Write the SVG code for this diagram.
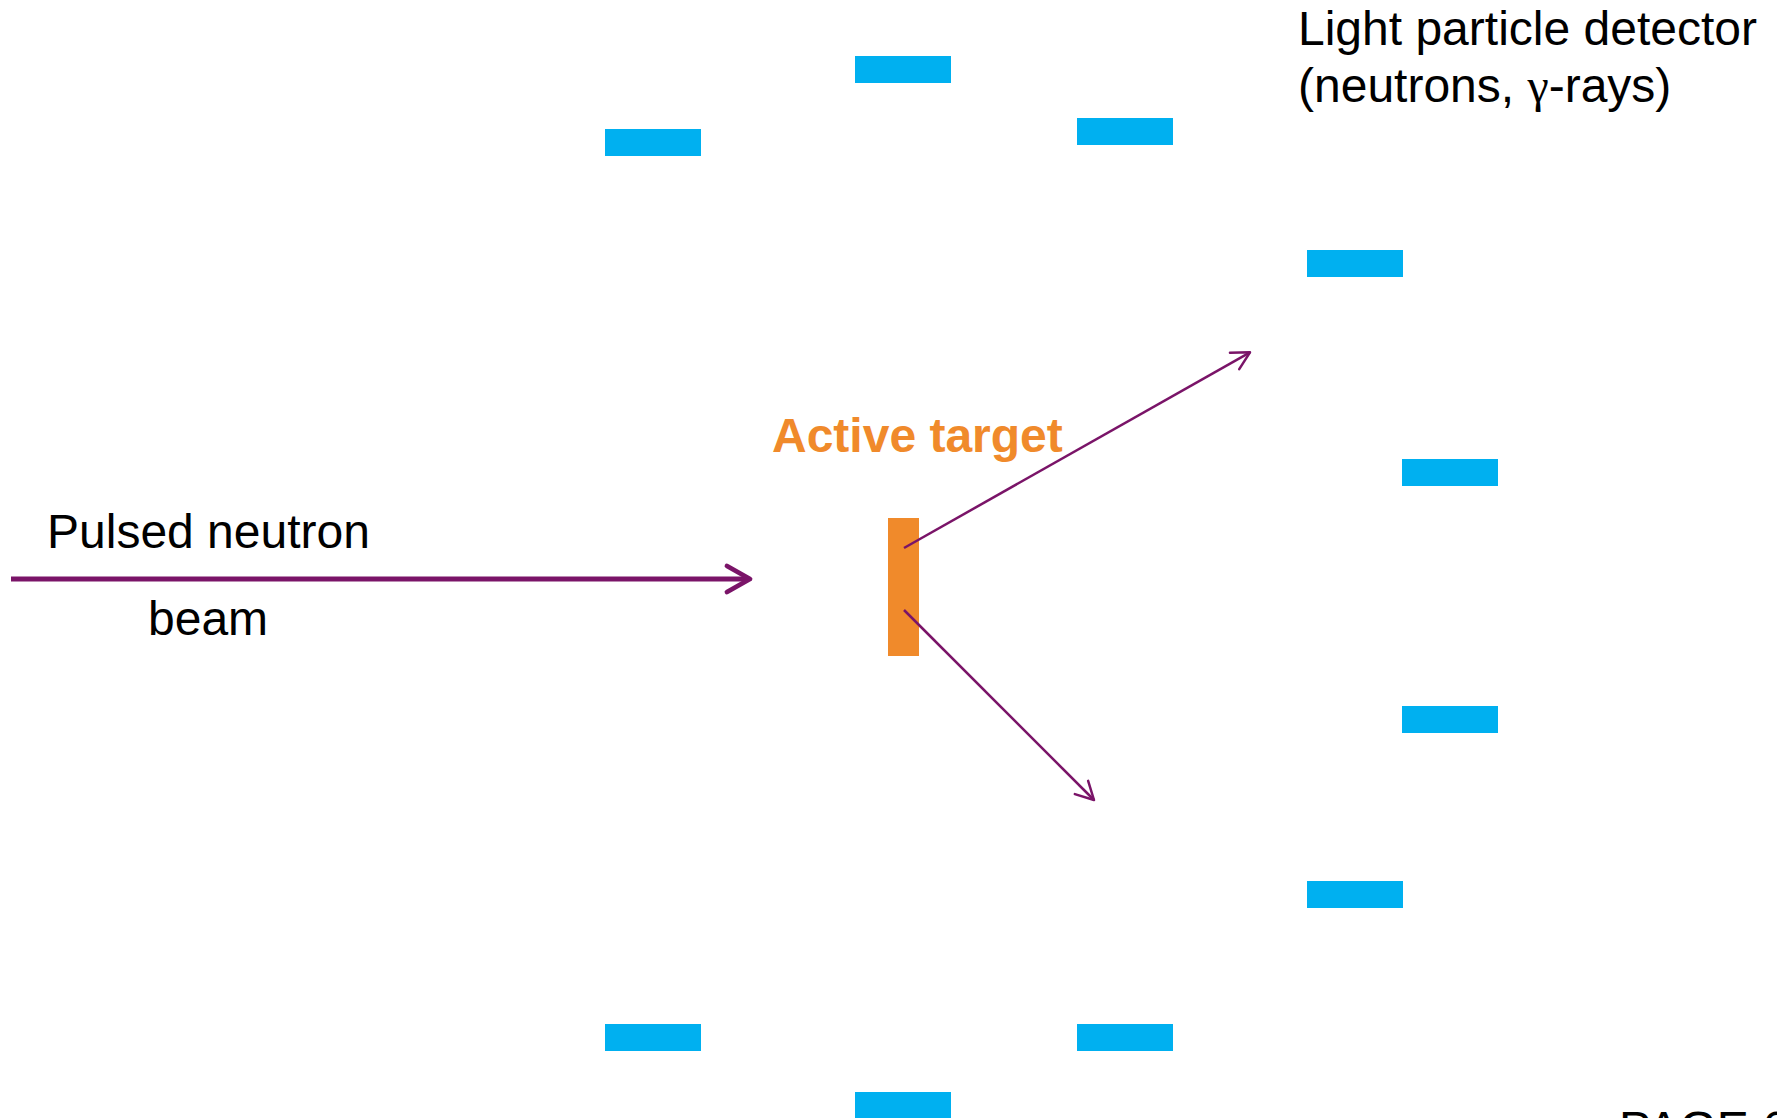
<svg xmlns="http://www.w3.org/2000/svg" width="1777" height="1118" viewBox="0 0 1777 1118">
<style>
  .det { fill: #00B0F0; }
  .txt { font-family: "Liberation Sans", Arial, sans-serif; font-size: 48px; fill: #000; }
  .gam { font-family: "Liberation Serif", "Times New Roman", serif; }
  .orange { font-family: "Liberation Sans", Arial, sans-serif; font-size: 48px; font-weight: bold; fill: #F08A2B; }
  .ray { stroke: #7A1468; stroke-width: 2.5; fill: none; }
  .beam { stroke: #7A1468; stroke-width: 4.8; fill: none; stroke-linejoin: round; }
  .beamhead { stroke: #7A1468; stroke-width: 4.8; fill: none; stroke-linecap: round; stroke-linejoin: round; }
</style>
<defs>
  <marker id="openArrow" markerUnits="userSpaceOnUse" markerWidth="30" markerHeight="30" viewBox="-25 -15 30 30" refX="0" refY="0" orient="auto" overflow="visible">
    <path d="M -17.7 -9.4 L 0 0 L -17.7 9.4" fill="none" stroke="#7A1468" stroke-width="2.5" stroke-linecap="round" stroke-linejoin="round"/>
  </marker>
</defs>
<rect width="1777" height="1118" fill="#FFFFFF"/>

<g id="detectors">
  <g id="det-top-center"><rect class="det" x="855" y="56" width="96" height="27"/></g>
  <g id="det-top-left"><rect class="det" x="605" y="129" width="96" height="27"/></g>
  <g id="det-top-right"><rect class="det" x="1077" y="118" width="96" height="27"/></g>
  <g id="det-right-1"><rect class="det" x="1307" y="250" width="96" height="27"/></g>
  <g id="det-right-2"><rect class="det" x="1402" y="459" width="96" height="27"/></g>
  <g id="det-right-3"><rect class="det" x="1402" y="706" width="96" height="27"/></g>
  <g id="det-right-4"><rect class="det" x="1307" y="881" width="96" height="27"/></g>
  <g id="det-bottom-left"><rect class="det" x="605" y="1024" width="96" height="27"/></g>
  <g id="det-bottom-right"><rect class="det" x="1077" y="1024" width="96" height="27"/></g>
  <g id="det-bottom-center"><rect class="det" x="855" y="1092" width="96" height="27"/></g>
</g>

<g id="target">
  <rect x="888" y="518" width="31" height="138" fill="#F08A2B"/>
  <text class="orange" x="772" y="452">Active target</text>
</g>

<g id="labels">
  <text class="txt" x="1298" y="45">Light particle detector</text>
  <text class="txt" x="1298" y="102">(neutrons, <tspan class="gam">γ</tspan>-rays)</text>
  <text class="txt" x="47" y="548">Pulsed neutron</text>
  <text class="txt" x="148" y="635">beam</text>
  <text class="txt" x="1619" y="1145">PAGE 6</text>
</g>

<g id="connectors">
  <line class="beam" x1="11" y1="579" x2="748" y2="579"/>
  <polyline class="beamhead" points="727,566 750,579 727,592"/>
  <line class="ray" x1="904" y1="548" x2="1250" y2="352.3" marker-end="url(#openArrow)"/>
  <line class="ray" x1="904" y1="610" x2="1094" y2="800" marker-end="url(#openArrow)"/>
</g>
</svg>
